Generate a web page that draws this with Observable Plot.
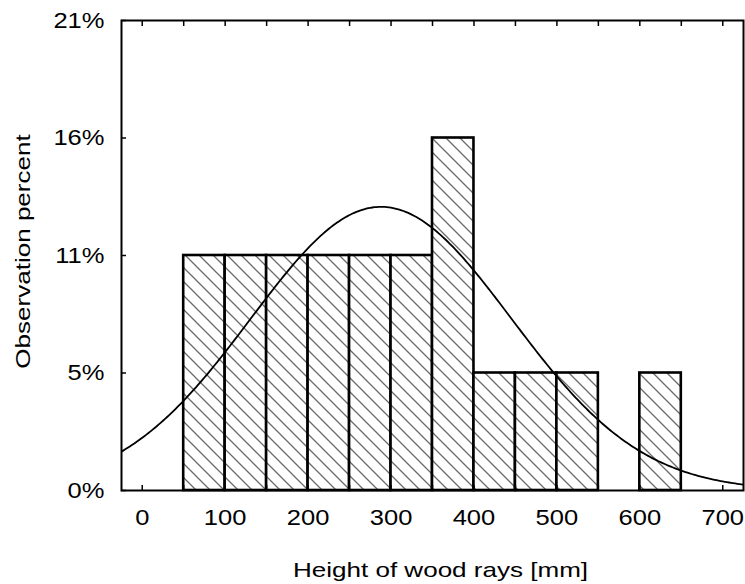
<!DOCTYPE html>
<html>
<head>
<meta charset="utf-8">
<script src="https://cdn.jsdelivr.net/npm/d3@7"></script>
<script src="https://cdn.jsdelivr.net/npm/@observablehq/plot@0.6"></script>
<style>
  html, body { margin: 0; padding: 0; background: #fff; }
  #chart { width: 745px; height: 584px; }
  svg { font-family: "Liberation Sans", Arial, sans-serif; }
</style>
</head>
<body>
<div id="chart"></div>
<script>
// Histogram bins (lower edge, mm) and counts of observations
const binStarts = [50, 100, 150, 200, 250, 300, 350, 400, 450, 500, 600];
const binWidth = 50;
const counts = [2, 2, 2, 2, 2, 2, 3, 1, 1, 1, 1];
const totalN = 19;

// Fitted normal curve parameters
const fitMean = 288;
const fitSd = 157;

// Axis ticks
const xLabelTicks = [0, 100, 200, 300, 400, 500, 600, 700];
const xMinorTicks = [0, 50, 100, 150, 200, 250, 300, 350, 400, 450, 500, 550, 600, 650, 700];
const yTicks = [0, 1, 2, 3, 4];
const yTickLabels = ["0%", "5%", "11%", "16%", "21%"];

const xDomain = [-25, 725];

const bars = binStarts.map((s, i) => ({x1: s, x2: s + binWidth, count: counts[i]}));

const curve = d3.range(xDomain[0], xDomain[1] + 1, 2.5).map(x => ({
  x,
  y: totalN * binWidth / (fitSd * Math.sqrt(2 * Math.PI)) * Math.exp(-0.5 * ((x - fitMean) / fitSd) ** 2)
}));

const chart = Plot.plot({
  width: 745,
  height: 584,
  marginLeft: 121,
  marginRight: 2,
  marginTop: 20,
  marginBottom: 94,
  style: {fontSize: "22px", fontFamily: "Liberation Sans, Arial, sans-serif", color: "#000", background: "#fff"},
  x: {domain: xDomain},
  y: {domain: [0, 4]},
  marks: [
    Plot.rectY(bars, {x1: "x1", x2: "x2", y: "count", fill: "url(#hatch)", stroke: "black", strokeWidth: 2.6}),
    Plot.line(curve, {x: "x", y: "y", stroke: "black", strokeWidth: 1.8, clip: true}),
    Plot.axisX(xMinorTicks, {anchor: "bottom", tickSize: -5, tickFormat: () => "", strokeWidth: 1.5, label: null}),
    Plot.axisX(xMinorTicks, {anchor: "top", tickSize: -5, tickFormat: () => "", strokeWidth: 1.5, label: null}),
    Plot.axisX(xLabelTicks, {anchor: "bottom", tickSize: 0, tickPadding: 19, fontSize: 22,
      label: "Height of wood rays [mm]", labelAnchor: "center", labelArrow: "none", labelOffset: 86}),
    Plot.axisY(yTicks, {anchor: "left", tickSize: -5, tickPadding: 22, strokeWidth: 1.5,
      tickFormat: d => yTickLabels[d], fontSize: 22,
      label: "Observation percent", labelAnchor: "center", labelArrow: "none", labelOffset: 106}),
    Plot.frame({stroke: "black", strokeWidth: 2})
  ]
});

// hatch pattern definition
const defs = d3.select(chart).insert("defs", ":first-child");
const pat = defs.append("pattern")
  .attr("id", "hatch")
  .attr("patternUnits", "userSpaceOnUse")
  .attr("width", 14).attr("height", 14);
pat.append("rect").attr("width", 14).attr("height", 14).attr("fill", "#fff");
pat.append("path")
  .attr("d", "M0,0L14,14M-2,12L2,16M12,-2L16,2")
  .attr("stroke", "#6a6a6a").attr("stroke-width", 1.3).attr("fill", "none");

document.getElementById("chart").appendChild(chart);

// Widen text horizontally like the reference's rendering
const svg = d3.select(chart);
const xLabel = svg.selectAll("[aria-label='x-axis label'] text");
const yLabel = svg.selectAll("[aria-label='y-axis label'] text");
xLabel.style("font-size", "21px").attr("dx", 8);
yLabel.style("font-size", "21px").attr("dx", 4);
svg.selectAll("text").each(function () {
  const el = this;
  const isTitle = el.closest("[aria-label='x-axis label']") || el.closest("[aria-label='y-axis label']");
  const len = el.getComputedTextLength();
  if (!len) return;
  const s = isTitle ? 1.24 : 1.16;
  el.setAttribute("textLength", (len * s).toFixed(1));
  el.setAttribute("lengthAdjust", "spacingAndGlyphs");
});
</script>
</body>
</html>
